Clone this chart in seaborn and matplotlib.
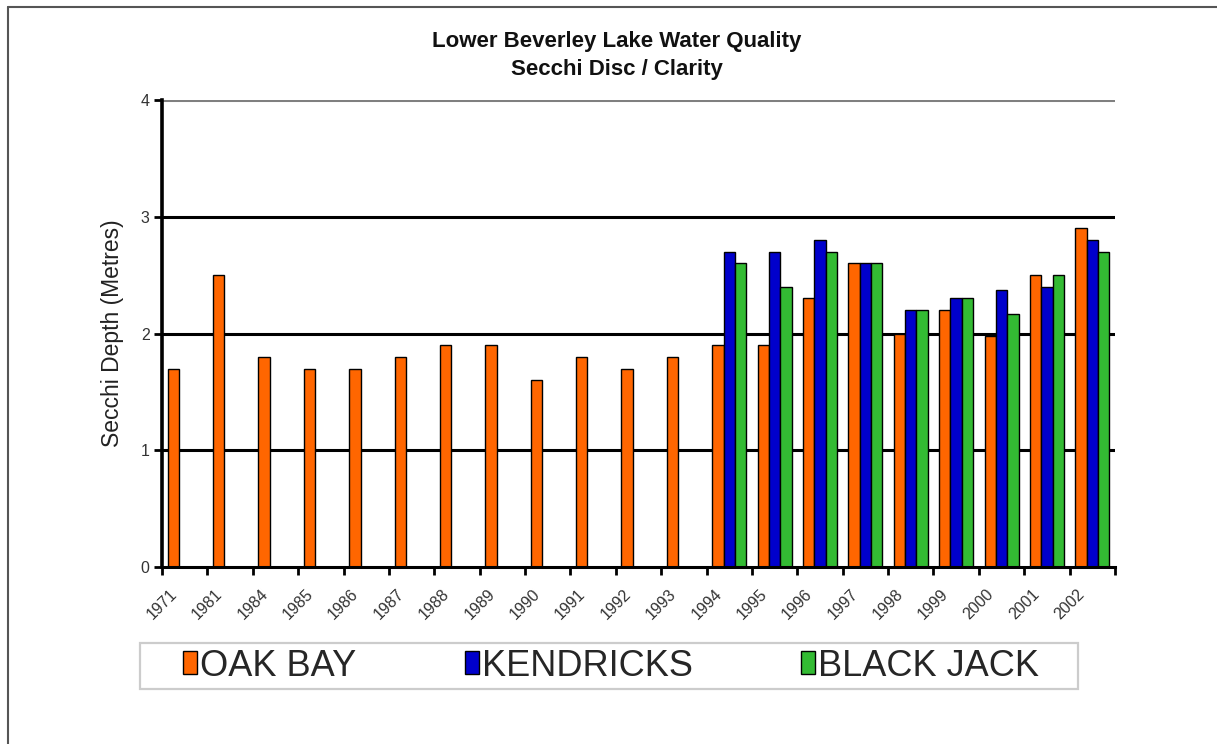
import matplotlib
matplotlib.use("Agg")
import matplotlib.pyplot as plt
from matplotlib.patches import Patch, Rectangle
from matplotlib.lines import Line2D
from matplotlib.transforms import ScaledTranslation
import numpy as np
import pandas as pd
import seaborn as sns

# Secchi depth readings (metres) per sampling year and site
years = ["1971", "1981", "1984", "1985", "1986", "1987", "1988", "1989", "1990",
         "1991", "1992", "1993", "1994", "1995", "1996", "1997", "1998", "1999",
         "2000", "2001", "2002"]
oak_bay = [1.7, 2.5, 1.8, 1.7, 1.7, 1.8, 1.9, 1.9, 1.6, 1.8, 1.7, 1.8,
           1.9, 1.9, 2.3, 2.6, 2.0, 2.2, 1.98, 2.5, 2.9]
kendricks = [np.nan] * 12 + [2.7, 2.7, 2.8, 2.6, 2.2, 2.3, 2.37, 2.4, 2.8]
black_jack = [np.nan] * 12 + [2.6, 2.4, 2.7, 2.6, 2.2, 2.3, 2.17, 2.5, 2.7]
sites = ["OAK BAY", "KENDRICKS", "BLACK JACK"]
site_colors = ["#FF6600", "#0000CC", "#33BB33"]
y_ticks = [0, 1, 2, 3, 4]

df = pd.DataFrame({
    "Year": years * 3,
    "Site": [sites[0]] * len(years) + [sites[1]] * len(years) + [sites[2]] * len(years),
    "Depth": oak_bay + kendricks + black_jack,
}).dropna()

sns.set_style("white")
plt.rcParams["font.family"] = ["Liberation Sans", "DejaVu Sans"]

fig = plt.figure(figsize=(12.17, 7.44), dpi=100)
ax = fig.add_axes([162 / 1217, 1 - 567 / 744, (1115 - 162) / 1217, (567 - 100) / 744])

# horizontal reference lines behind the bars
for v in y_ticks[1:]:
    ax.axhline(v, color="#808080" if v == 4 else "black", lw=2.2, zorder=0.5)

sns.barplot(data=df, x="Year", y="Depth", hue="Site", order=years, hue_order=sites,
            palette=site_colors, saturation=1, width=0.75, gap=0, errorbar=None,
            edgecolor="black", linewidth=1, legend=False, ax=ax, zorder=2)

ax.set_xlim(-0.5, len(years) - 0.5)
ax.set_ylim(0, 4)
ax.set_yticks(y_ticks)
ax.set_yticklabels([str(t) for t in y_ticks], fontsize=11.5, color="#333333")
ax.tick_params(axis="y", length=6, width=2, color="black", pad=3, left=True)

ax.set_xticks(range(len(years)))
ax.set_xticklabels(years, rotation=45, ha="right", va="center",
                   rotation_mode="anchor", fontsize=11.5, color="#333333")
ax.tick_params(axis="x", which="major", length=0, pad=18)
shift = ScaledTranslation(-10 / 100, 0, fig.dpi_scale_trans)
for lab in ax.get_xticklabels():
    lab.set_transform(lab.get_transform() + shift)
ax.set_xticks(np.arange(-0.5, len(years)), minor=True)
ax.tick_params(axis="x", which="minor", length=6, width=2, color="black",
               direction="out", bottom=True)

ax.set_xlabel("")
ax.set_ylabel("Secchi Depth (Metres)", fontsize=16.5, color="#222222", labelpad=12)

for side in ("top", "right"):
    ax.spines[side].set_visible(False)
ax.spines["left"].set_color("black")
ax.spines["left"].set_linewidth(2.6)
ax.spines["bottom"].set_color("black")
ax.spines["bottom"].set_linewidth(2.2)
ax.set_facecolor("white")

# title
fig.text(0.507, 1 - 42 / 744, "Lower Beverley Lake Water Quality", ha="center",
         va="center", fontsize=16, fontweight="bold", color="#111111")
fig.text(0.507, 1 - 69 / 744, "Secchi Disc / Clarity", ha="center",
         va="center", fontsize=16, fontweight="bold", color="#111111")

# legend with its own light frame
handles = [Patch(facecolor=c, edgecolor="black", linewidth=1) for c in site_colors]
fig.legend(handles, sites, loc="center", bbox_to_anchor=(611 / 1217, 1 - 666 / 744),
           ncol=3, frameon=False, fontsize=26, handlelength=0.39, handleheight=0.61,
           handletextpad=0.08, columnspacing=3.0, borderpad=0)
fig.add_artist(Rectangle((140 / 1217, 1 - 689 / 744), 938 / 1217, 46 / 744,
                         transform=fig.transFigure, fill=False,
                         edgecolor="#cccccc", linewidth=1.6))

# outer chart border (top and left edges)
fig.add_artist(Line2D([8 / 1217, 1], [1 - 7 / 744, 1 - 7 / 744],
                      transform=fig.transFigure, color="#555555", lw=1.5))
fig.add_artist(Line2D([8 / 1217, 8 / 1217], [0, 1 - 7 / 744],
                      transform=fig.transFigure, color="#555555", lw=1.5))

fig.savefig("out.png", dpi=100, facecolor="white")
